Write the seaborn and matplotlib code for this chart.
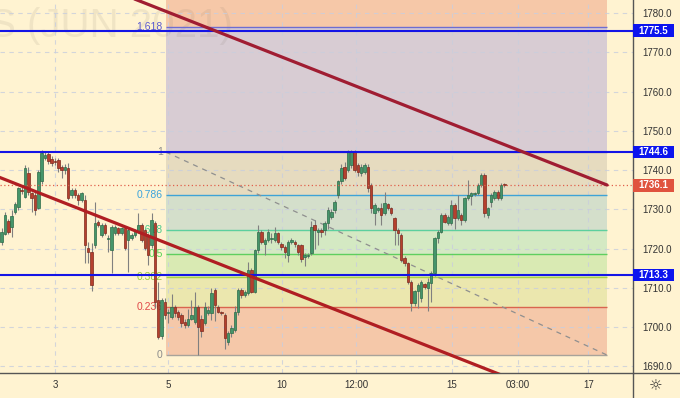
import matplotlib
matplotlib.use("Agg")
import matplotlib.pyplot as plt
from matplotlib.patches import Rectangle
from matplotlib.lines import Line2D
import seaborn as sns
import pandas as pd
import numpy as np

# ---------------- data ----------------
opens = [1721.8, 1723.6, 1727.0, 1725.6, 1729.4, 1730.7, 1735.0, 1733.2, 1739.2, 1734.1,
         1733.7, 1730.3, 1737.1, 1743.0, 1744.0, 1742.8, 1742.4, 1742.6, 1740.9, 1739.9,
         1740.5, 1733.7, 1735.0, 1733.7, 1732.4, 1732.4, 1720.1, 1719.2, 1720.9, 1726.9,
         1723.5, 1726.0, 1722.4, 1719.6, 1723.9, 1725.2, 1723.9, 1725.2, 1722.2, 1722.6,
         1723.5, 1724.3, 1726.0, 1724.7, 1723.5, 1720.9, 1726.5, 1707.0, 1697.8, 1706.5,
         1703.5, 1702.7, 1705.2, 1703.9, 1703.1, 1701.4, 1700.5, 1702.2, 1701.4, 1705.2,
         1702.2, 1701.0, 1703.5, 1703.5, 1709.5, 1705.2, 1703.9, 1703.1, 1696.3, 1698.4,
         1699.3, 1703.9, 1709.5, 1708.2, 1708.6, 1714.6, 1709.0, 1719.6, 1724.3, 1721.3,
         1722.2, 1722.4, 1722.2, 1723.9, 1721.3, 1720.5, 1718.4, 1721.8, 1721.8, 1720.9,
         1720.9, 1717.9, 1718.0, 1718.8, 1726.0, 1724.3, 1724.7, 1724.7, 1726.4, 1728.1,
         1729.8, 1733.7, 1737.1, 1740.9, 1740.0, 1741.3, 1744.7, 1741.3, 1739.2, 1739.6,
         1740.9, 1736.2, 1729.0, 1729.8, 1730.3, 1729.0, 1731.3, 1730.3, 1727.7, 1724.7,
         1723.5, 1717.5, 1716.3, 1711.6, 1706.1, 1709.1, 1707.4, 1710.9, 1709.9, 1711.2,
         1713.7, 1722.6, 1724.3, 1728.6, 1726.5, 1726.5, 1731.1, 1727.7, 1728.6, 1727.3,
         1732.8, 1733.3, 1733.9, 1734.1, 1736.2, 1738.8, 1728.6, 1732.0, 1732.8, 1734.5,
         1732.8, 1736.4]
highs = [1725.2, 1729.4, 1727.5, 1729.9, 1731.8, 1735.8, 1735.6, 1741.3, 1740.9, 1734.5,
         1734.5, 1740.0, 1745.1, 1744.6, 1744.5, 1743.5, 1743.0, 1743.0, 1741.3, 1741.5,
         1741.7, 1735.4, 1735.4, 1734.1, 1734.5, 1733.7, 1721.8, 1721.4, 1732.0, 1727.3,
         1726.4, 1726.4, 1723.5, 1726.0, 1726.0, 1725.6, 1725.6, 1725.6, 1725.2, 1724.0,
         1725.0, 1729.0, 1726.4, 1725.0, 1724.0, 1729.0, 1727.0, 1711.5, 1707.5, 1707.5,
         1704.5, 1708.5, 1705.6, 1704.3, 1703.5, 1702.0, 1704.5, 1706.9, 1709.0, 1705.6,
         1703.0, 1706.5, 1705.5, 1710.0, 1710.0, 1705.6, 1704.0, 1703.5, 1699.0, 1700.5,
         1705.5, 1710.0, 1710.0, 1709.5, 1716.5, 1715.0, 1720.0, 1726.0, 1724.8, 1722.6,
         1725.0, 1724.0, 1725.5, 1724.3, 1721.8, 1721.0, 1722.2, 1722.6, 1722.2, 1721.3,
         1721.3, 1718.8, 1719.0, 1727.0, 1727.3, 1725.2, 1725.2, 1727.0, 1730.5, 1730.0,
         1732.5, 1737.5, 1741.5, 1742.0, 1745.1, 1745.1, 1745.0, 1741.7, 1741.5, 1741.7,
         1741.5, 1736.6, 1731.5, 1730.7, 1731.5, 1734.5, 1731.7, 1730.7, 1728.1, 1725.2,
         1724.0, 1718.0, 1716.7, 1712.0, 1709.5, 1711.2, 1712.0, 1711.2, 1712.5, 1714.2,
         1723.0, 1724.7, 1729.0, 1729.0, 1728.6, 1732.4, 1731.5, 1733.7, 1729.0, 1733.2,
         1737.5, 1734.5, 1734.5, 1736.6, 1739.2, 1739.2, 1730.7, 1734.1, 1734.9, 1734.9,
         1736.6, 1736.8]
lows = [1721.0, 1723.5, 1723.8, 1723.0, 1728.9, 1729.9, 1734.0, 1732.8, 1733.7, 1729.4,
        1728.6, 1730.0, 1736.5, 1742.5, 1741.5, 1741.0, 1741.3, 1739.6, 1737.9, 1739.0,
        1732.4, 1733.0, 1733.0, 1731.1, 1731.8, 1716.3, 1716.3, 1709.1, 1720.1, 1725.6,
        1723.0, 1723.5, 1719.2, 1713.7, 1723.5, 1723.5, 1723.5, 1719.6, 1714.1, 1722.2,
        1723.0, 1723.9, 1721.8, 1719.6, 1715.8, 1720.1, 1705.0, 1697.0, 1697.0, 1702.0,
        1701.0, 1702.0, 1702.5, 1701.8, 1700.1, 1699.7, 1700.1, 1701.8, 1700.8, 1693.0,
        1697.6, 1700.5, 1703.0, 1701.8, 1701.5, 1703.5, 1703.0, 1694.5, 1695.5, 1697.5,
        1698.8, 1703.0, 1707.5, 1707.8, 1708.2, 1708.6, 1708.6, 1719.0, 1721.3, 1718.4,
        1721.8, 1721.5, 1721.8, 1721.3, 1719.6, 1717.5, 1716.5, 1721.3, 1720.5, 1718.4,
        1716.5, 1715.5, 1717.5, 1718.4, 1720.0, 1721.0, 1723.0, 1723.5, 1725.0, 1727.5,
        1729.0, 1733.0, 1736.5, 1737.5, 1739.5, 1740.5, 1739.5, 1738.5, 1738.5, 1739.0,
        1734.5, 1729.0, 1726.0, 1729.4, 1726.0, 1728.6, 1729.8, 1728.6, 1720.9, 1721.0,
        1716.5, 1715.5, 1711.0, 1704.0, 1705.5, 1704.8, 1706.5, 1709.8, 1704.0, 1706.5,
        1713.0, 1721.5, 1723.9, 1726.5, 1726.0, 1726.0, 1725.0, 1727.3, 1726.0, 1726.9,
        1732.4, 1731.1, 1733.5, 1733.7, 1735.8, 1728.1, 1727.7, 1730.7, 1732.4, 1732.4,
        1732.4, 1735.8]
closes = [1724.2, 1728.6, 1724.2, 1728.4, 1731.3, 1735.4, 1734.6, 1740.5, 1734.5, 1732.8,
          1729.9, 1739.6, 1744.3, 1743.9, 1742.2, 1741.7, 1742.0, 1740.5, 1740.1, 1740.7,
          1732.8, 1735.0, 1733.7, 1732.4, 1734.1, 1720.9, 1719.2, 1710.8, 1726.5, 1726.0,
          1726.0, 1723.9, 1722.7, 1725.6, 1725.6, 1723.9, 1725.2, 1720.1, 1724.7, 1723.5,
          1724.7, 1726.0, 1722.2, 1720.1, 1718.4, 1727.3, 1706.5, 1697.5, 1706.9, 1703.1,
          1703.9, 1705.2, 1703.5, 1702.7, 1701.0, 1700.5, 1702.2, 1703.1, 1705.2, 1700.1,
          1698.9, 1705.2, 1704.3, 1708.6, 1705.6, 1703.9, 1703.5, 1697.2, 1698.4, 1699.7,
          1703.9, 1709.5, 1708.2, 1709.0, 1714.6, 1709.0, 1719.6, 1724.3, 1721.8, 1722.2,
          1724.3, 1722.6, 1723.9, 1721.8, 1720.5, 1719.2, 1721.8, 1722.2, 1721.3, 1719.2,
          1717.3, 1718.4, 1718.4, 1725.6, 1724.7, 1724.7, 1724.3, 1726.4, 1729.8, 1729.4,
          1731.9, 1737.1, 1740.5, 1737.9, 1744.7, 1744.7, 1740.0, 1739.6, 1740.9, 1741.3,
          1735.4, 1730.3, 1731.1, 1730.3, 1728.6, 1731.5, 1730.3, 1729.0, 1724.7, 1723.9,
          1717.1, 1716.3, 1711.6, 1706.1, 1709.1, 1710.8, 1711.6, 1710.3, 1711.6, 1713.7,
          1722.6, 1724.3, 1728.6, 1726.9, 1728.1, 1731.1, 1727.7, 1729.8, 1727.3, 1732.8,
          1733.7, 1734.1, 1734.1, 1736.2, 1738.8, 1729.0, 1730.3, 1733.7, 1734.5, 1732.8,
          1736.2, 1736.1]

price_ticks = [1690, 1700, 1710, 1720, 1730, 1740, 1750, 1760, 1770, 1780]
time_tick_pos = [16.0, 50.0, 84.1, 106.4, 135.1, 155.1, 176.2]
time_tick_labels = ["3", "5", "10", "12:00", "15", "03:00", "17"]

fib_x = [49.3, 181.8]
fib_high = 1744.6
fib_low = 1692.9
fib_levels = [0, 0.236, 0.382, 0.5, 0.618, 0.786, 1, 1.618]
fib_labels = ["0", "0.236", "0.382", "0.5", "0.618", "0.786", "1", "1.618"]
fib_line_colors = ["#a8a39a", "#d9654f", "#a9cf45", "#5fcf5f", "#5ccf9e", "#3ea3d6", "#9a9a9a", "#6d6dd2"]
fib_text_colors = ["#8c8c8c", "#e04848", "#96c93a", "#55d455", "#49c98c", "#3aa3dc", "#8c8c8c", "#5a5ad0"]
fib_band_colors = ["#f5c8a9", "#ebe7ae", "#d9eab3", "#d4e9c3", "#d4dfcb", "#e6dbbf", "#d8ccd3", "#f6c8a8"]

hlines = [1775.5, 1744.6, 1713.3]
last_price = 1736.1

upper_x = [20.0, 181.8]
upper_y = [1790.2, 1736.2]
lower_x = [-5.0, 160.0]
lower_y = [1739.6, 1684.5]

watermark = "GOLD FUTURES (JUN 2021)"

# ---------------- style ----------------
sns.set_theme(style="white")
plt.rcParams["font.family"] = ["Liberation Sans", "DejaVu Sans"]

BG = "#fff3d1"
W, H = 680, 398
fig = plt.figure(figsize=(W / 100, H / 100), dpi=100)
fig.patch.set_facecolor(BG)
ax = fig.add_axes([0, 25 / H, 633 / W, 373 / H])
ax.set_facecolor(BG)

XMIN, XMAX = -0.51, 189.6
YMIN, YMAX = 1688.33, 1783.31

# watermark (only its right end is visible in the chart)
ax.text(69.4, 1774.0, watermark, ha="right", va="baseline",
        fontsize=29, color="#7a7060", alpha=0.11, zorder=0.4, clip_on=True)

# fib bands
lv_prices = [fib_low + l * (fib_high - fib_low) for l in fib_levels]
band_edges = lv_prices + [1800.0]
for i, col in enumerate(fib_band_colors):
    ax.fill_between(fib_x, band_edges[i], band_edges[i + 1], color=col, lw=0, zorder=0.3)

# fib level lines and labels
ax.hlines(lv_prices, fib_x[0], fib_x[1], colors=fib_line_colors, lw=1.0, zorder=2)
for p, lab, tc in zip(lv_prices, fib_labels, fib_text_colors):
    ax.text(fib_x[0] - 0.9, p, lab, ha="right", va="center", fontsize=7.5, color=tc, zorder=2)

# fib diagonal
sns.lineplot(x=fib_x, y=[fib_high, fib_low], ax=ax, color="#8f8f8f", lw=0.9,
             linestyle=(0, (4, 4)), zorder=2.5)

# candles
df = pd.DataFrame(dict(o=opens, h=highs, l=lows, c=closes))
df["x"] = np.arange(len(df))
up = df["c"] >= df["o"]
ax.vlines(df["x"], df["l"], df["h"], color="#808080", lw=0.8, zorder=3)
body = (df["c"] - df["o"]).abs().clip(lower=0.25)
ax.bar(df["x"], body, bottom=np.minimum(df["o"], df["c"]), width=0.72,
       color=np.where(up, "#45956a", "#b5402e"),
       edgecolor=np.where(up, "#2c6b48", "#7e291d"), linewidth=0.5, zorder=4)

# horizontal lines
for p in hlines:
    ax.axhline(p, color="#1414e6", lw=1.5, zorder=5)
ax.axhline(last_price, color="#e0604c", lw=0.9, ls=(0, (1, 2)), zorder=5)

# trend lines
sns.lineplot(x=upper_x, y=upper_y, ax=ax, color="#a01d32", lw=2.3, zorder=6)
sns.lineplot(x=lower_x, y=lower_y, ax=ax, color="#b01e22", lw=2.3, zorder=6)

# axes
ax.set_xlim(XMIN, XMAX)
ax.set_ylim(YMIN, YMAX)
ax.yaxis.tick_right()
ax.set_yticks(price_ticks)
ax.set_yticklabels([f"{v:.1f}" for v in price_ticks])
ax.set_xticks(time_tick_pos)
ax.set_xticklabels(time_tick_labels)
ax.tick_params(axis="y", length=0, pad=6.5, labelsize=7, labelcolor="#333333")
ax.tick_params(axis="x", length=0, pad=5, labelsize=7, labelcolor="#333333")
ax.set_axisbelow(True)
ax.grid(True, color="#c9cedd", lw=0.8, ls=(0, (4, 4)), alpha=0.8)
for s in ["top", "left"]:
    ax.spines[s].set_visible(False)
for s in ["right", "bottom"]:
    ax.spines[s].set_color("#555555")
    ax.spines[s].set_linewidth(1.0)
ax.set_xlabel("")
ax.set_ylabel("")

# extend axis lines into the corner
fig.add_artist(Line2D([633 / W, 633 / W], [0, 25 / H], color="#555555", lw=1.0))
fig.add_artist(Line2D([633 / W, 1], [25 / H, 25 / H], color="#555555", lw=1.0))

# price label boxes
ytr = ax.get_yaxis_transform()
box_h = 12.5 / 3.927
for p, col in [(1775.5, "#0c14ee"), (1744.6, "#0c14ee"), (last_price, "#e0533f"), (1713.3, "#0c14ee")]:
    ax.add_patch(Rectangle((1.0, p - box_h / 2), 41 / 633, box_h, transform=ytr,
                           facecolor=col, edgecolor="none", clip_on=False, zorder=7))
    ax.text(1.0 + 20.5 / 633, p, f"{p:.1f}", transform=ytr, ha="center", va="center",
            fontsize=7, color="white", fontweight="bold", clip_on=False, zorder=8)

# settings icon
fig.text(656 / W, 1 - 386 / H, "\u263c", ha="center", va="center", fontsize=11,
         color="#333333", family="DejaVu Sans")

fig.savefig("out.png", dpi=100, facecolor=BG)
